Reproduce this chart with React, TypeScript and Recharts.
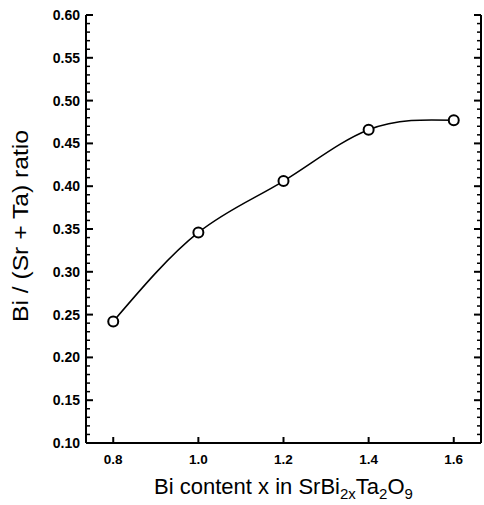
import React from 'react';
import { LineChart, Line, XAxis, YAxis, Label } from 'recharts';

// ---- data ----
const biContent = [0.8, 1.0, 1.2, 1.4, 1.6];
const biRatio = [0.242, 0.346, 0.406, 0.466, 0.477];

const xTickValues = [0.8, 1.0, 1.2, 1.4, 1.6];
const xTickLabels = ['0.8', '1.0', '1.2', '1.4', '1.6'];
const yMajorValues = [0.1, 0.15, 0.2, 0.25, 0.3, 0.35, 0.4, 0.45, 0.5, 0.55, 0.6];
const yMajorLabels = ['0.10', '0.15', '0.20', '0.25', '0.30', '0.35', '0.40', '0.45', '0.50', '0.55', '0.60'];

const X_DOMAIN: [number, number] = [0.736, 1.664];
const Y_DOMAIN: [number, number] = [0.1, 0.6];

const yAllTicks: number[] = [];
for (let i = 10; i <= 60; i++) yAllTicks.push(i / 100);

const chartData = biContent.map((x, i) => ({ x, ratio: biRatio[i] }));

const FONT = '"Liberation Sans", Arial, Helvetica, sans-serif';

const isMajorY = (v: number) => yMajorValues.some((m) => Math.abs(m - v) < 1e-6);
const yLabelFor = (v: number) => {
  const idx = yMajorValues.findIndex((m) => Math.abs(m - v) < 1e-6);
  return idx >= 0 ? yMajorLabels[idx] : '';
};
const xLabelFor = (v: number) => {
  const idx = xTickValues.findIndex((m) => Math.abs(m - v) < 1e-6);
  return idx >= 0 ? xTickLabels[idx] : '';
};

const BottomTick = (props: any) => {
  const { x, y, payload } = props;
  return (
    <g>
      <line x1={x} y1={y} x2={x} y2={y - 6} stroke="#000" strokeWidth={2} />
      <text x={x} y={y + 21} textAnchor="middle" fontFamily={FONT} fontWeight="bold" fontSize={13.5} fill="#000">
        {xLabelFor(payload.value)}
      </text>
    </g>
  );
};

const TopTick = (props: any) => {
  const { x, y } = props;
  return <line x1={x} y1={y} x2={x} y2={y + 6} stroke="#000" strokeWidth={2} />;
};

const LeftTick = (props: any) => {
  const { x, y, payload } = props;
  const major = isMajorY(payload.value);
  return (
    <g>
      <line x1={x} y1={y} x2={x + (major ? 7 : 4)} y2={y} stroke="#000" strokeWidth={major ? 2 : 1.5} />
      {major && (
        <text x={x - 6} y={y + 5} textAnchor="end" fontFamily={FONT} fontWeight="bold" fontSize={14} fill="#000">
          {yLabelFor(payload.value)}
        </text>
      )}
    </g>
  );
};

const RightTick = (props: any) => {
  const { x, y, payload } = props;
  const major = isMajorY(payload.value);
  return <line x1={x} y1={y} x2={x - (major ? 7 : 4)} y2={y} stroke="#000" strokeWidth={major ? 2 : 1.5} />;
};

const Dot = (props: any) => {
  const { cx, cy, index } = props;
  if (cx == null || cy == null) return null;
  return <circle key={index} cx={cx} cy={cy} r={5} fill="#fff" stroke="#000" strokeWidth={2} />;
};

const XTitle = (props: any) => {
  const vb = props.viewBox || { x: 86, y: 442, width: 395, height: 63 };
  const cx = vb.x + vb.width / 2;
  return (
    <text x={cx} y={494} textAnchor="middle" fontFamily={FONT} fontSize={22} fill="#000">
      Bi content x in SrBi
      <tspan dy={5} fontSize={15}>2x</tspan>
      <tspan dy={-5}>Ta</tspan>
      <tspan dy={5} fontSize={15}>2</tspan>
      <tspan dy={-5}>O</tspan>
      <tspan dy={5} fontSize={15}>9</tspan>
    </text>
  );
};

const YTitle = () => (
  <text
    x={20}
    y={226}
    transform="rotate(-90 20 226)"
    textAnchor="middle"
    dominantBaseline="central"
    fontFamily={FONT}
    fontSize={22}
    textLength={192}
    lengthAdjust="spacingAndGlyphs"
    fill="#000"
  >
    Bi / (Sr + Ta) ratio
  </text>
);

export default function App() {
  return (
    <div style={{ position: 'absolute', left: 0, top: 0, width: 484, height: 505, background: '#fff' }}>
      <LineChart width={484} height={505} data={chartData} margin={{ top: 15, right: 0, bottom: 0, left: 0 }}>
        <XAxis
          dataKey="x"
          type="number"
          domain={X_DOMAIN}
          allowDataOverflow
          ticks={xTickValues}
          interval={0}
          height={62}
          tickSize={0}
          tickMargin={0}
          tickLine={false}
          axisLine={{ stroke: '#000', strokeWidth: 2 }}
          tick={<BottomTick />}
        >
          <Label content={<XTitle />} />
        </XAxis>
        <XAxis
          xAxisId="top"
          orientation="top"
          dataKey="x"
          type="number"
          domain={X_DOMAIN}
          allowDataOverflow
          ticks={xTickValues}
          interval={0}
          height={0}
          tickSize={0}
          tickMargin={0}
          tickLine={false}
          axisLine={{ stroke: '#000', strokeWidth: 2 }}
          tick={<TopTick />}
        />
        <YAxis
          type="number"
          domain={Y_DOMAIN}
          allowDataOverflow
          ticks={yAllTicks}
          interval={0}
          width={86}
          tickSize={0}
          tickMargin={0}
          tickLine={false}
          axisLine={{ stroke: '#000', strokeWidth: 2 }}
          tick={<LeftTick />}
        >
          <Label content={<YTitle />} />
        </YAxis>
        <YAxis
          yAxisId="right"
          orientation="right"
          type="number"
          domain={Y_DOMAIN}
          allowDataOverflow
          ticks={yAllTicks}
          interval={0}
          width={3}
          tickSize={0}
          tickMargin={0}
          tickLine={false}
          axisLine={{ stroke: '#000', strokeWidth: 2 }}
          tick={<RightTick />}
        />
        <Line
          type="natural"
          dataKey="ratio"
          stroke="#000"
          strokeWidth={1.5}
          dot={<Dot />}
          activeDot={false}
          isAnimationActive={false}
        />
      </LineChart>
    </div>
  );
}
